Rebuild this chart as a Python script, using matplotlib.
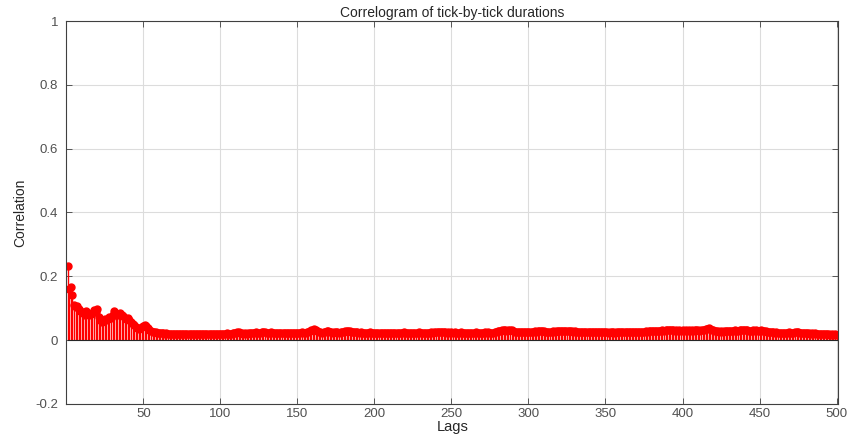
import numpy as np
import matplotlib
matplotlib.use('Agg')
import matplotlib.pyplot as plt

# 相関係数 (ラグ 1-60, 目で読んだ値)
acf_head = [0.232, 0.160, 0.165, 0.140, 0.110, 0.105, 0.108, 0.098, 0.092, 0.088,
            0.085, 0.080, 0.090, 0.083, 0.078, 0.082, 0.086, 0.095, 0.088, 0.098,
            0.072, 0.062, 0.058, 0.060, 0.065, 0.062, 0.066, 0.072, 0.070, 0.078,
            0.092, 0.080, 0.082, 0.078, 0.085, 0.080, 0.074, 0.070, 0.066, 0.068,
            0.062, 0.056, 0.050, 0.046, 0.040, 0.038, 0.036, 0.037, 0.040, 0.043,
            0.046, 0.044, 0.038, 0.032, 0.028, 0.026, 0.025, 0.024, 0.023, 0.022]
# ラグ 61-200
acf_mid1 = [0.022, 0.021, 0.021, 0.020, 0.021, 0.020, 0.020, 0.019, 0.020, 0.020,
            0.019, 0.020, 0.019, 0.019, 0.020, 0.019, 0.018, 0.019, 0.019, 0.018,
            0.019, 0.018, 0.019, 0.018, 0.019, 0.019, 0.018, 0.019, 0.020, 0.019,
            0.018, 0.019, 0.019, 0.018, 0.019, 0.020, 0.019, 0.019, 0.018, 0.019,
            0.020, 0.019, 0.020, 0.021, 0.020, 0.019, 0.020, 0.021, 0.022, 0.023,
            0.024, 0.025, 0.023, 0.021, 0.020, 0.021, 0.020, 0.021, 0.022, 0.023,
            0.022, 0.023, 0.024, 0.023, 0.022, 0.023, 0.024, 0.025, 0.024, 0.023,
            0.022, 0.023, 0.024, 0.023, 0.022, 0.021, 0.022, 0.023, 0.022, 0.021,
            0.022, 0.021, 0.022, 0.023, 0.022, 0.021, 0.022, 0.021, 0.022, 0.023,
            0.022, 0.023, 0.024, 0.023, 0.022, 0.024, 0.026, 0.028, 0.031, 0.033,
            0.034, 0.032, 0.028, 0.025, 0.024, 0.023, 0.024, 0.025, 0.027, 0.028,
            0.026, 0.024, 0.023, 0.024, 0.025, 0.024, 0.023, 0.024, 0.025, 0.026,
            0.027, 0.028, 0.028, 0.027, 0.026, 0.025, 0.024, 0.025, 0.024, 0.023,
            0.024, 0.023, 0.022, 0.023, 0.022, 0.023, 0.024, 0.023, 0.022, 0.023]
# ラグ 201-360
acf_mid2 = [0.022, 0.023, 0.022, 0.021, 0.022, 0.023, 0.022, 0.021, 0.022, 0.021,
            0.022, 0.023, 0.022, 0.023, 0.022, 0.021, 0.022, 0.023, 0.024, 0.023,
            0.022, 0.023, 0.022, 0.021, 0.022, 0.023, 0.022, 0.023, 0.024, 0.023,
            0.022, 0.021, 0.022, 0.023, 0.022, 0.023, 0.024, 0.023, 0.024, 0.025,
            0.024, 0.025, 0.026, 0.025, 0.026, 0.024, 0.023, 0.024, 0.023, 0.024,
            0.023, 0.024, 0.023, 0.022, 0.023, 0.024, 0.023, 0.022, 0.023, 0.022,
            0.023, 0.022, 0.023, 0.022, 0.023, 0.024, 0.023, 0.022, 0.023, 0.022,
            0.023, 0.024, 0.023, 0.024, 0.023, 0.022, 0.023, 0.024, 0.025, 0.027,
            0.028, 0.029, 0.030, 0.031, 0.030, 0.029, 0.032, 0.033, 0.031, 0.028,
            0.026, 0.025, 0.024, 0.025, 0.024, 0.025, 0.026, 0.025, 0.024, 0.025,
            0.026, 0.025, 0.026, 0.027, 0.026, 0.027, 0.028, 0.029, 0.028, 0.027,
            0.026, 0.025, 0.026, 0.025, 0.026, 0.027, 0.026, 0.027, 0.028, 0.027,
            0.028, 0.027, 0.028, 0.029, 0.028, 0.027, 0.028, 0.027, 0.026, 0.027,
            0.026, 0.025, 0.026, 0.025, 0.026, 0.025, 0.024, 0.025, 0.024, 0.025,
            0.024, 0.025, 0.024, 0.025, 0.026, 0.025, 0.024, 0.025, 0.024, 0.025,
            0.024, 0.023, 0.024, 0.025, 0.024, 0.023, 0.024, 0.025, 0.024, 0.025]
# ラグ 361-500
acf_tail = [0.024, 0.025, 0.026, 0.025, 0.024, 0.025, 0.024, 0.025, 0.026, 0.025,
            0.026, 0.025, 0.024, 0.025, 0.026, 0.027, 0.026, 0.027, 0.028, 0.027,
            0.028, 0.027, 0.028, 0.029, 0.028, 0.029, 0.030, 0.029, 0.030, 0.031,
            0.030, 0.032, 0.031, 0.030, 0.029, 0.030, 0.029, 0.030, 0.029, 0.030,
            0.029, 0.030, 0.029, 0.030, 0.029, 0.030, 0.029, 0.030, 0.031, 0.030,
            0.029, 0.030, 0.031, 0.032, 0.034, 0.036, 0.037, 0.035, 0.032, 0.030,
            0.029, 0.028, 0.027, 0.026, 0.027, 0.026, 0.027, 0.028, 0.029, 0.028,
            0.029, 0.028, 0.029, 0.030, 0.029, 0.028, 0.030, 0.031, 0.030, 0.031,
            0.032, 0.030, 0.029, 0.028, 0.029, 0.030, 0.029, 0.030, 0.029, 0.028,
            0.030, 0.029, 0.028, 0.027, 0.026, 0.025, 0.024, 0.025, 0.024, 0.023,
            0.024, 0.023, 0.022, 0.023, 0.022, 0.023, 0.022, 0.023, 0.024, 0.023,
            0.022, 0.023, 0.024, 0.025, 0.024, 0.023, 0.022, 0.021, 0.022, 0.021,
            0.022, 0.021, 0.020, 0.021, 0.020, 0.021, 0.020, 0.019, 0.020, 0.019,
            0.018, 0.019, 0.018, 0.019, 0.018, 0.017, 0.018, 0.017, 0.018, 0.017]

x_ticks = [50, 100, 150, 200, 250, 300, 350, 400, 450, 500]
y_ticks = [-0.2, 0, 0.2, 0.4, 0.6, 0.8, 1]
y_ticklabels = ['-0.2', '0', '0.2', '0.4', '0.6', '0.8', '1']

acf = np.array(acf_head + acf_mid1 + acf_mid2 + acf_tail)
lags = np.arange(1, len(acf) + 1)

plt.rcParams['font.family'] = ['Liberation Sans', 'DejaVu Sans']
fig = plt.figure(figsize=(8.5, 4.38), dpi=100)
ax = fig.add_axes([0.078, 0.078, 0.908, 0.874])

ml, sl, bl = ax.stem(lags, acf, linefmt='r-', markerfmt='o', basefmt='-')
plt.setp(sl, color='red', linewidth=1.0)
plt.setp(ml, color='red', markersize=5, markeredgecolor='red')
plt.setp(bl, color='#262626', linewidth=0.8)

ax.set_xlim(0, 501)
ax.set_ylim(-0.2, 1)
ax.set_xticks(x_ticks)
ax.set_yticks(y_ticks)
ax.set_yticklabels(y_ticklabels)
ax.grid(True, color='#dcdcdc', linewidth=0.8)
ax.set_axisbelow(True)
ax.tick_params(direction='in', length=4, top=True, right=True,
               labelsize=9.5, colors='#404040', labelcolor='#505050', width=0.6)
ax.tick_params(axis='x', pad=3)
ax.tick_params(axis='y', pad=6)
for s in ax.spines.values():
    s.set_color('#404040')
    s.set_linewidth(0.8)

ax.set_title('Correlogram of tick-by-tick durations', fontsize=10, color='#262626', pad=3)
ax.set_xlabel('Lags', fontsize=10.5, color='#262626', labelpad=0)
ax.set_ylabel('Correlation', fontsize=10, color='#262626', labelpad=6)

fig.savefig('out.png', dpi=100)
